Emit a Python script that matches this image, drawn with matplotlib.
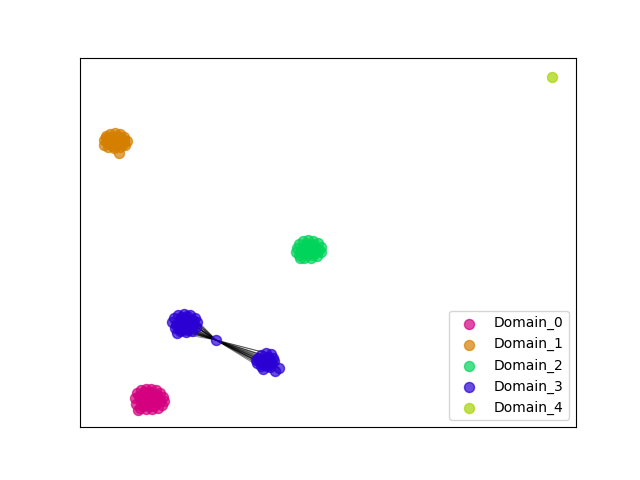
import matplotlib
matplotlib.use('Agg')
import matplotlib.pyplot as plt

# point positions per domain (x, y), y measured downward
domain_0_x = [135, 137, 141, 146, 151, 156, 160, 163, 164, 162, 158, 152, 146, 140, 136,
              138, 142, 148, 154, 158, 152, 145, 140, 148, 156,
              144, 150, 155, 160, 143, 149, 139, 153, 147, 157]
domain_0_y = [398, 393, 390, 389, 389, 390, 393, 397, 401, 405, 408, 409, 409, 408, 404,
              410, 395, 394, 395, 399, 403, 403, 400, 399, 404,
              392, 392, 398, 401, 406, 406, 396, 406, 397, 395]

domain_1_x = [104, 106, 110, 115, 120, 124, 127, 125, 120, 114, 108, 104, 110, 116, 121,
              113, 119, 107, 123, 116,
              112, 118, 124, 109, 113, 118, 106, 122]
domain_1_y = [140, 136, 134, 133, 134, 137, 141, 145, 147, 148, 147, 145, 140, 139, 141,
              144, 153, 142, 144, 143,
              137, 136, 140, 144, 146, 145, 138, 139]

domain_2_x = [297, 299, 303, 308, 313, 318, 321, 321, 317, 311, 304, 299, 296, 303, 309,
              315, 310, 304, 300, 316,
              306, 312, 318, 301, 307, 313, 319, 308]
domain_2_y = [248, 244, 241, 240, 241, 243, 247, 252, 256, 258, 258, 255, 252, 248, 246,
              248, 252, 253, 258, 252,
              244, 244, 249, 251, 255, 255, 250, 249]

domain_3_x = [172, 174, 178, 184, 190, 195, 197, 196, 192, 186, 180, 175, 177, 180, 186,
              191, 184, 178, 189, 183,
              181, 187, 193, 176, 182, 188, 193, 179,
              216,
              258, 261, 266, 271, 273, 272, 267, 261, 257, 264, 269, 263, 275, 279, 270,
              256, 266, 260, 268, 274, 262, 270]
domain_3_y = [322, 318, 315, 314, 315, 318, 322, 327, 331, 332, 331, 328, 333, 320, 319,
              322, 325, 324, 327, 329,
              317, 316, 320, 325, 330, 330, 325, 328,
              340,
              358, 355, 353, 354, 358, 363, 366, 366, 363, 359, 360, 369, 371, 368, 367,
              360, 363, 361, 357, 361, 364, 364]
hub_index = 28

domain_4_x = [552]
domain_4_y = [77]

labels = ['Domain_0', 'Domain_1', 'Domain_2', 'Domain_3', 'Domain_4']
colors = ['#d4007f', '#d47f00', '#00d45a', '#2a00d4', '#a5d400']

xs = [domain_0_x, domain_1_x, domain_2_x, domain_3_x, domain_4_x]
ys = [domain_0_y, domain_1_y, domain_2_y, domain_3_y, domain_4_y]

fig, ax = plt.subplots(figsize=(6.4, 4.8), dpi=100)

# edges from the hub point to the rest of domain 3
hx, hy = domain_3_x[hub_index], domain_3_y[hub_index]
for i in range(len(domain_3_x)):
    if i == hub_index:
        continue
    ax.plot([hx, domain_3_x[i]], [-hy, -domain_3_y[i]], color='black', lw=0.7, alpha=0.45, zorder=1)

for x, y, lab, c in zip(xs, ys, labels, colors):
    ax.scatter(x, [-v for v in y], s=52, color=c, alpha=0.7, label=lab, zorder=2)

ax.set_xlim(80, 576)
ax.set_ylim(-427, -58)
ax.set_xticks([])
ax.set_yticks([])
ax.legend(loc='lower right')
plt.savefig('out.png')
